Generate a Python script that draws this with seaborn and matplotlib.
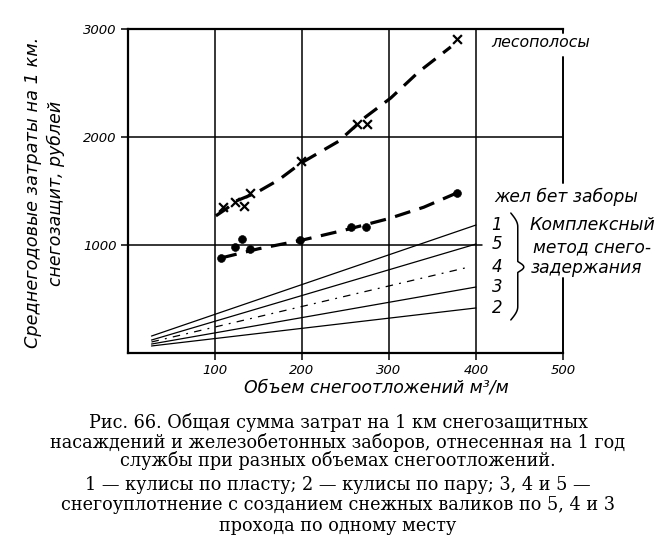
import numpy as np
import pandas as pd
import matplotlib
matplotlib.use("Agg")
import matplotlib.pyplot as plt
import seaborn as sns

# ---- data ----
# лесополосы: measured points (crosses) and the dashed trend drawn through them
forest_x = [109, 123, 133, 140, 199, 263, 275, 378]
forest_y = [1352, 1398, 1361, 1482, 1778, 2121, 2121, 2908]
forest_curve_x = [101, 112, 125, 147, 173, 199, 242, 273, 302, 334, 371]
forest_curve_y = [1270, 1330, 1410, 1482, 1602, 1759, 1960, 2185, 2361, 2602, 2834]

# жел бет заборы: measured points (dots) and dashed trend
fence_x = [107, 123, 131, 140, 198, 256, 273, 378]
fence_y = [880, 982, 1056, 963, 1046, 1167, 1167, 1482]
fence_curve_x = [107, 150, 200, 250, 300, 340, 378]
fence_curve_y = [880, 965, 1045, 1140, 1245, 1350, 1482]

# комплексный метод: thin straight lines 1..5 (start / end)
method_names = ["1", "5", "4", "3", "2"]
method_x0 = [27, 27, 27, 27, 27]
method_x1 = [400, 400, 392, 400, 400]
method_y0 = [157, 120, 102, 83, 65]
method_y1 = [1185, 1009, 796, 611, 417]

x_ticks = [100, 200, 300, 400, 500]
y_ticks = [1000, 2000, 3000]

caption = [
    "Рис. 66. Общая сумма затрат на 1 км снегозащитных",
    "насаждений и железобетонных заборов, отнесенная на 1 год",
    "службы при разных объемах снегоотложений.",
    "1 — кулисы по пласту; 2 — кулисы по пару; 3, 4 и 5 —",
    "снегоуплотнение с созданием снежных валиков по 5, 4 и 3",
    "прохода по одному месту",
]

sns.set_style("white")
plt.rcParams["font.family"] = ["DejaVu Sans"]
plt.rcParams["text.color"] = "black"
plt.rcParams["xtick.color"] = "black"
plt.rcParams["ytick.color"] = "black"

fig = plt.figure(figsize=(6.72, 5.58), dpi=100)
ax = fig.add_axes([128 / 672, 1 - 353 / 558, 435 / 672, 324 / 558])
ax.set_xlim(0, 500)
ax.set_ylim(0, 3000)

# grid drawn by hand like on the original sheet
for gx in [100, 200, 300, 400]:
    ax.axvline(gx, color="black", lw=1.1, zorder=1)
ax.plot([0, 500], [2000, 2000], color="black", lw=1.1, zorder=1)
ax.plot([0, 407], [1000, 1000], color="black", lw=1.1, zorder=1)

# thin lines of the complex method
line_styles = {"1": "-", "5": "-", "4": (0, (6, 5, 1.5, 5)), "3": "-", "2": "-"}
for name, xa, xb, ya, yb in zip(method_names, method_x0, method_x1, method_y0, method_y1):
    seg = pd.DataFrame({"x": [xa, xb], "y": [ya, yb]})
    sns.lineplot(data=seg, x="x", y="y", ax=ax, color="black", lw=0.9,
                 linestyle=line_styles[name], zorder=2)
    ax.text(418, yb, name, fontsize=12, style="italic", ha="left", va="center")

# dashed trends
sns.lineplot(x=forest_curve_x, y=forest_curve_y, ax=ax, sort=False, color="black",
             lw=2.3, linestyle=(0, (5, 3)), zorder=3)
sns.lineplot(x=fence_curve_x, y=fence_curve_y, ax=ax, sort=False, color="black",
             lw=2.3, linestyle=(0, (5, 3)), zorder=3)

sns.scatterplot(x=forest_x, y=forest_y, ax=ax, marker="x", s=40, color="black",
                linewidth=1.6, zorder=4)
sns.scatterplot(x=fence_x, y=fence_y, ax=ax, marker="o", s=32, color="black",
                edgecolor="black", zorder=4)

# frame, right side broken by the labels
for side in ["top", "left", "bottom"]:
    ax.spines[side].set_linewidth(1.6)
    ax.spines[side].set_color("black")
ax.spines["right"].set_visible(False)
for ya, yb in [(0, 694), (1574, 2741), (2960, 3000)]:
    ax.plot([500, 500], [ya, yb], color="black", lw=1.4, clip_on=False, zorder=1)

ax.set_xticks(x_ticks)
ax.set_yticks(y_ticks)
ax.set_xticklabels([str(v) for v in x_ticks], fontsize=9.5, style="italic")
ax.set_yticklabels([str(v) for v in y_ticks], fontsize=9.5, style="italic")
ax.tick_params(direction="out", length=5, width=1.1, color="black", pad=3,
               bottom=True, left=True)
ax.set_xlabel("")
ax.set_ylabel("")

# right-hand annotations
note = dict(style="italic", ha="left", va="center", clip_on=False)
ax.text(417, 2871, "лесополосы", fontsize=11.3, **note)
ax.text(421, 1445, "жел бет заборы", fontsize=12.3, **note)
ax.text(462, 1185, "Комплексный", fontsize=12.5, **note)
ax.text(466, 980, "метод снего-", fontsize=12.3, **note)
ax.text(463, 790, "задержания", fontsize=12.3, **note)

# curly brace
top, mid, bot = 1296, 796, 306
upper_y = np.linspace(top, mid, 40)
lower_y = np.linspace(mid, bot, 40)
def brace_x(yy, ya, yb):
    u = (yy - ya) / (yb - ya)
    return 440 + 8 * np.sin(np.pi * np.clip(u * 4, 0, 1) / 2) * (u < 0.9) \
        + (8 + 7 * np.sin(np.pi / 2 * np.clip((u - 0.9) / 0.1, 0, 1))) * (u >= 0.9)
ux = brace_x(upper_y, top, mid)
lx = brace_x(lower_y[::-1], bot, mid)[::-1]
ax.plot(np.r_[ux, lx], np.r_[upper_y, lower_y], color="black", lw=1.1, clip_on=False)

# axis titles (hand lettering)
fig.text(33 / 672, 1 - 192 / 558, "Среднегодовые затраты на 1 км.", rotation=90,
         fontsize=12.8, style="italic", ha="center", va="center")
fig.text(56 / 672, 1 - 193 / 558, "снегозащит, рублей", rotation=90,
         fontsize=12.5, style="italic", ha="center", va="center")
fig.text(376 / 672, 1 - 388 / 558, "Объем снегоотложений м³/м", fontsize=12.5,
         style="italic", ha="center", va="center")

cap_y = [422, 442, 461, 485, 505, 526]
for line, yy in zip(caption, cap_y):
    fig.text(0.503, 1 - yy / 558, line, fontsize=12.7, family="DejaVu Serif",
             ha="center", va="center", color="black")

fig.savefig("out.png", dpi=100, facecolor="white")
